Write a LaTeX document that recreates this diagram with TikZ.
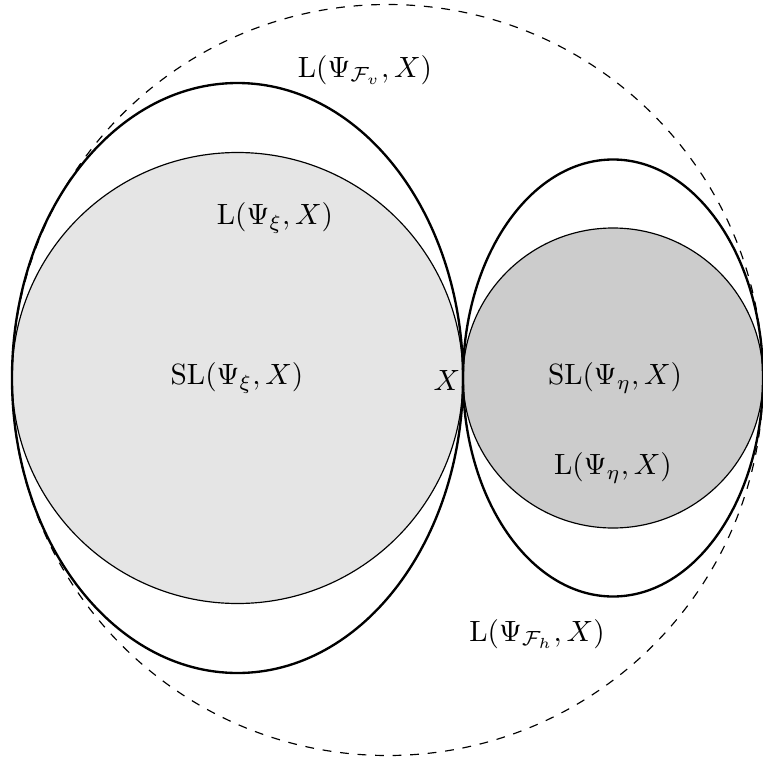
\documentclass[tikz,border=0pt]{standalone}
\usepackage{amsmath}
\tikzset{
  bigset/.style={line width=0.8pt},
  smallset/.style={draw=black, line width=0.4pt},
  outer/.style={dashed, line width=0.4pt},
}
\begin{document}
\begin{tikzpicture}
  \useasboundingbox (0,0) rectangle (9.156,-9.132);
  % filled sets
  \draw[smallset, fill=black!10] (2.85,-4.536) circle (2.706);
  \draw[smallset, fill=black!20] (7.356,-4.536) circle (1.8);
  % leaves
  \draw[bigset] (2.85,-4.536) ellipse (2.706 and 3.54);
  \draw[bigset] (7.356,-4.536) ellipse (1.8 and 2.622);
  % whole space
  \draw[outer] (4.65,-4.56) circle (4.506);
  % labels
  \node (Lv) at (4.38,-0.84) {$\mathrm{L}(\Psi_{\mathcal{F}_v},X)$};
  \node (Lxi) at (3.3,-2.616) {$\mathrm{L}(\Psi_\xi,X)$};
  \node (SLxi) at (2.844,-4.536) {$\mathrm{SL}(\Psi_\xi,X)$};
  \node (pt) at (5.364,-4.56) {$X$};
  \node (SLeta) at (7.38,-4.536) {$\mathrm{SL}(\Psi_\eta,X)$};
  \node (Leta) at (7.356,-5.616) {$\mathrm{L}(\Psi_\eta,X)$};
  \node (Lh) at (6.444,-7.608) {$\mathrm{L}(\Psi_{\mathcal{F}_h},X)$};
\end{tikzpicture}
\end{document}
